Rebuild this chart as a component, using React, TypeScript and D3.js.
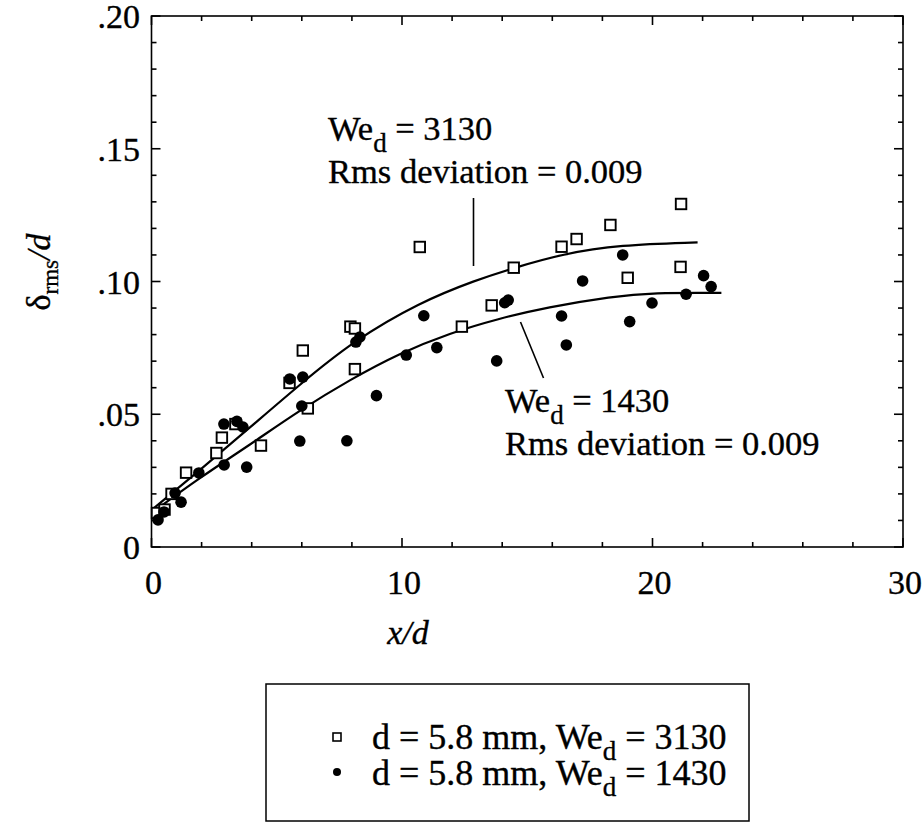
import React from "react";
import * as d3 from "d3";

// We_d = 3130 (open squares)
const sqX = [0.22, 0.52, 0.80, 1.38, 2.59, 2.81, 3.35, 4.37, 5.51, 6.04, 6.24, 7.94, 8.12, 8.12, 10.71, 12.39, 13.58, 14.46, 16.37, 16.97, 18.32, 19.01, 21.14, 21.12];
const sqY = [0.0128, 0.0141, 0.0200, 0.0280, 0.0354, 0.0412, 0.0463, 0.0382, 0.0618, 0.0740, 0.0522, 0.0830, 0.0823, 0.0670, 0.1130, 0.0830, 0.0910, 0.1052, 0.1131, 0.1160, 0.1213, 0.1014, 0.1292, 0.1055];
// We_d = 1430 (filled circles)
const ciX = [0.26, 0.50, 0.94, 1.18, 1.89, 2.89, 2.90, 3.41, 3.65, 3.80, 5.52, 6.04, 6.00, 5.92, 7.80, 8.16, 8.32, 8.98, 10.17, 10.87, 11.39, 13.78, 14.10, 14.24, 16.37, 16.56, 17.21, 18.81, 19.09, 19.98, 21.34, 22.04, 22.34];
const ciY = [0.0102, 0.0132, 0.0203, 0.0169, 0.0279, 0.0463, 0.0309, 0.0473, 0.0452, 0.0301, 0.0633, 0.0640, 0.0531, 0.0399, 0.0400, 0.0772, 0.0791, 0.0570, 0.0723, 0.0871, 0.0751, 0.0701, 0.0920, 0.0930, 0.0870, 0.0761, 0.1002, 0.1100, 0.0849, 0.0919, 0.0952, 0.1022, 0.0981];
// fitted curves
const fitHiX = [0, 1.94, 3.93, 5.92, 8.04, 10.71, 12.97, 14.46, 16.41, 18.69, 21.80];
const fitHiY = [0.0139, 0.0290, 0.0450, 0.0612, 0.0775, 0.0922, 0.1006, 0.1051, 0.1104, 0.1138, 0.1147];
const fitLoX = [0, 1.94, 3.93, 5.92, 7.92, 9.91, 11.91, 13.90, 15.77, 18.41, 20.01, 22.75];
const fitLoY = [0.0128, 0.0262, 0.0385, 0.0515, 0.0630, 0.0730, 0.0806, 0.0861, 0.0903, 0.0944, 0.0958, 0.0957];

const xTickLabels = ["0", "10", "20", "30"];
const xTickVals = [0, 10, 20, 30];
const yTickLabels = ["0", ".05", ".10", ".15", ".20"];
const yTickVals = [0, 0.05, 0.1, 0.15, 0.2];

const FONT = "'Liberation Serif', 'DejaVu Serif', serif";

export default function App() {
  const x = d3.scaleLinear().domain([0, 30]).range([151.5, 903]);
  const y = d3.scaleLinear().domain([0, 0.2]).range([547, 16]);
  const [x0, x1] = x.range();
  const [yb, yt] = y.range();

  const line = d3
    .line<[number, number]>()
    .x((d) => x(d[0]))
    .y((d) => y(d[1]))
    .curve(d3.curveBasis);

  const hi = fitHiX.map((v, i) => [v, fitHiY[i]] as [number, number]);
  const lo = fitLoX.map((v, i) => [v, fitLoY[i]] as [number, number]);

  const xMinor = d3.range(0, 30.001, 2);
  const yMinor = d3.range(0, 0.2001, 0.01);

  const ticks: any[] = [];
  xMinor.forEach((v, i) => {
    const major = Math.abs(v % 10) < 1e-6;
    const L = major ? 9 : 5;
    ticks.push(<line key={"xb" + i} x1={x(v)} x2={x(v)} y1={yb} y2={yb - L} />);
    ticks.push(<line key={"xt" + i} x1={x(v)} x2={x(v)} y1={yt} y2={yt + L} />);
  });
  yMinor.forEach((v, i) => {
    const k = Math.round(v * 100);
    const major = k % 5 === 0;
    const L = major ? 9 : 5;
    ticks.push(<line key={"yl" + i} x1={x0} x2={x0 + L} y1={y(v)} y2={y(v)} />);
    ticks.push(<line key={"yr" + i} x1={x1} x2={x1 - L} y1={y(v)} y2={y(v)} />);
  });

  const sq = 10.5;
  const textStyle = { stroke: "#000", strokeWidth: 0.35 } as any;
  return (
    <svg width={922} height={835} style={{ position: "absolute", left: 0, top: 0, background: "#fff" }} fontFamily={FONT}>
      <rect x={0} y={0} width={922} height={835} fill="#fff" />
      <g stroke="#000" strokeWidth={1.6} fill="none">
        <rect x={x0} y={yt} width={x1 - x0} height={yb - yt} />
        {ticks}
      </g>
      {/* tick labels */}
      <g fontSize={34} fill="#000" style={textStyle}>
        {xTickVals.map((v, i) => (
          <text key={"xl" + i} x={x(v) + 2} y={594} textAnchor="middle">{xTickLabels[i]}</text>
        ))}
        {yTickVals.map((v, i) => (
          <text key={"yl" + i} x={140} y={y(v) + 12} textAnchor="end">{yTickLabels[i]}</text>
        ))}
      </g>
      {/* axis titles */}
      <text x={408} y={644} fontSize={34} fontStyle="italic" textAnchor="middle" style={textStyle}>x/d</text>
      <text transform="translate(50,272) rotate(-90)" fontSize={34} textAnchor="middle" style={textStyle}>
        <tspan>δ</tspan>
        <tspan fontSize={23} dy={8}>rms</tspan>
        <tspan dy={-8} fontStyle="italic">/d</tspan>
      </text>
      {/* fit curves */}
      <path d={line(hi) || ""} fill="none" stroke="#000" strokeWidth={2.2} />
      <path d={line(lo) || ""} fill="none" stroke="#000" strokeWidth={2.2} />
      {/* markers */}
      {sqX.map((v, i) => (
        <rect key={"s" + i} x={x(v) - sq / 2} y={y(sqY[i]) - sq / 2} width={sq} height={sq} fill="#fff" stroke="#000" strokeWidth={1.9} />
      ))}
      {ciX.map((v, i) => (
        <circle key={"c" + i} cx={x(v)} cy={y(ciY[i])} r={5.8} fill="#000" />
      ))}
      {/* annotations */}
      <g stroke="#000" strokeWidth={1.6}>
        <line x1={473.5} y1={198} x2={473.5} y2={266} />
        <line x1={520.5} y1={322} x2={543.5} y2={378} />
      </g>
      <g fontSize={34.5} fill="#000" style={textStyle}>
        <text x={328} y={140}>
          We<tspan fontSize={27} dy={12}>d</tspan><tspan dy={-12}> = 3130</tspan>
        </text>
        <text x={328} y={183}>Rms deviation = 0.009</text>
        <text x={505} y={412}>
          We<tspan fontSize={27} dy={12}>d</tspan><tspan dy={-12}> = 1430</tspan>
        </text>
        <text x={505} y={455}>Rms deviation = 0.009</text>
      </g>
      {/* legend */}
      <rect x={266} y={684} width={483} height={137} fill="none" stroke="#000" strokeWidth={1.5} />
      <rect x={333} y={733} width={8} height={8} fill="#fff" stroke="#000" strokeWidth={1.6} />
      <circle cx={337} cy={772} r={4} fill="#000" />
      <g fontSize={36} fill="#000" style={textStyle}>
        <text x={372} y={749}>
          d = 5.8 mm, We<tspan fontSize={27} dy={11}>d</tspan><tspan dy={-11}> = 3130</tspan>
        </text>
        <text x={372} y={785}>
          d = 5.8 mm, We<tspan fontSize={27} dy={11}>d</tspan><tspan dy={-11}> = 1430</tspan>
        </text>
      </g>
    </svg>
  );
}
